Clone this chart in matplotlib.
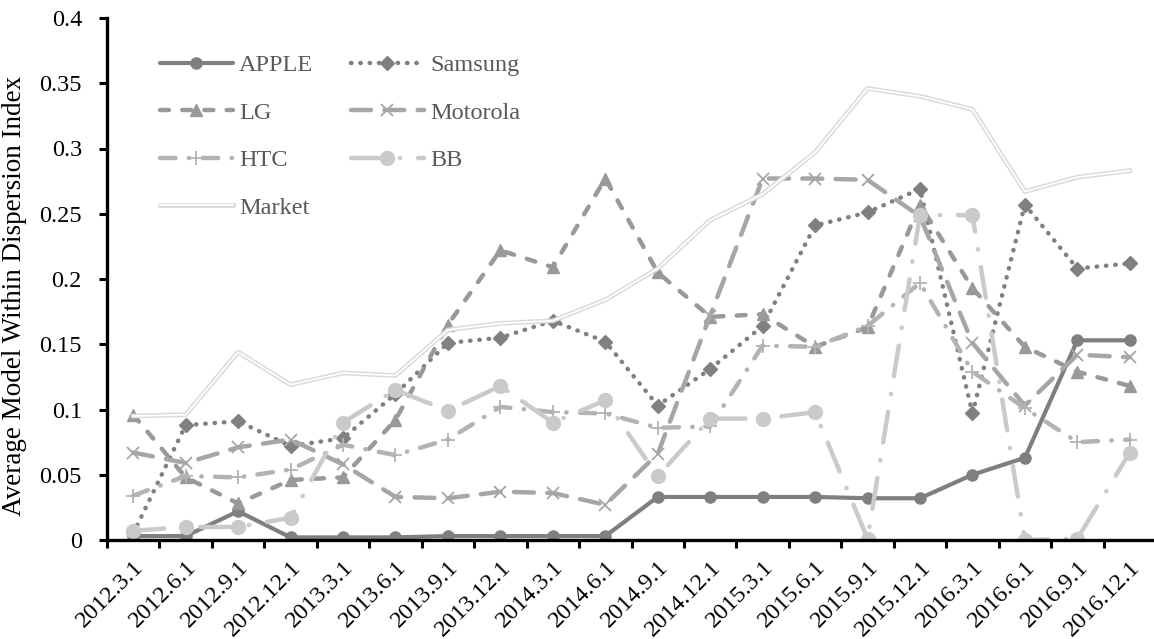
import matplotlib
matplotlib.use("Agg")
import matplotlib.pyplot as plt
import matplotlib.patheffects as pe

plt.rcParams.update({
    "font.family": ["Liberation Serif", "DejaVu Serif"],
    "font.size": 17.5,
})

dates = ["2012.3.1", "2012.6.1", "2012.9.1", "2012.12.1", "2013.3.1", "2013.6.1",
         "2013.9.1", "2013.12.1", "2014.3.1", "2014.6.1", "2014.9.1", "2014.12.1",
         "2015.3.1", "2015.6.1", "2015.9.1", "2015.12.1", "2016.3.1", "2016.6.1",
         "2016.9.1", "2016.12.1"]

apple = [0.003, 0.003, 0.022, 0.002, 0.002, 0.002, 0.003, 0.003, 0.003, 0.003,
         0.033, 0.033, 0.033, 0.033, 0.032, 0.032, 0.050, 0.063, 0.153, 0.153]
samsung = [0.005, 0.088, 0.091, 0.072, 0.078, 0.112, 0.151, 0.155, 0.168, 0.152,
           0.103, 0.131, 0.164, 0.241, 0.251, 0.269, 0.097, 0.257, 0.208, 0.212]
lg = [0.096, 0.048, 0.028, 0.046, 0.048, 0.092, 0.165, 0.222, 0.209, 0.277,
      0.205, 0.171, 0.173, 0.148, 0.163, 0.257, 0.193, 0.148, 0.129, 0.118]
motorola = [0.067, 0.059, 0.071, 0.077, 0.058, 0.033, 0.032, 0.037, 0.036, 0.027,
            0.066, 0.172, 0.277, 0.277, 0.276, 0.248, 0.151, 0.103, 0.142, 0.140]
htc = [0.034, 0.049, 0.048, 0.054, 0.073, 0.065, 0.077, 0.102, 0.098, 0.097,
       0.086, 0.087, 0.149, 0.148, 0.164, 0.197, 0.129, 0.101, 0.075, 0.077]
bb = [0.007, 0.010, 0.010, 0.017, 0.090, 0.115, 0.099, 0.118, 0.090, 0.107,
      0.049, 0.093, 0.093, 0.098, 0.001, 0.249, 0.249, 0.000, 0.001, 0.067]
market = [0.095, 0.096, 0.144, 0.119, 0.128, 0.126, 0.161, 0.166, 0.168, 0.184,
          0.208, 0.245, 0.265, 0.297, 0.346, 0.340, 0.330, 0.267, 0.278, 0.283]

x = list(range(len(dates)))

fig = plt.figure(figsize=(11.54, 6.39), dpi=100)
ax = fig.add_axes([107 / 1154, 99 / 639, 1049 / 1154, 522 / 639])

lw = 3.2
h_apple, = ax.plot(x, apple, color="#7f7f7f", lw=3.0, marker="o", ms=8,
                   label="APPLE", solid_capstyle="round")
h_sam, = ax.plot(x, samsung, color="#808080", lw=lw, marker="D", ms=7,
                 dashes=(0.1, 2.0), dash_capstyle="round", label="Samsung")
h_lg, = ax.plot(x, lg, color="#999999", lw=lw, marker="^", ms=9,
                dashes=(2, 3), dash_capstyle="round", label="LG")
h_mot, = ax.plot(x, motorola, color="#a6a6a6", lw=lw, marker="x", ms=9, mew=1.3,
                 dashes=(4.5, 3), dash_capstyle="round", label="Motorola")
h_htc, = ax.plot(x, htc, color="#b3b3b3", lw=lw, marker="+", ms=10, mew=1.3,
                 dashes=(3.5, 3, 0.1, 3), dash_capstyle="round", label="HTC")
h_bb, = ax.plot(x, bb, color="#cacaca", lw=lw, marker="o", ms=10,
                dashes=(7, 4, 0.1, 4), dash_capstyle="round", label="BB")
h_mkt, = ax.plot(x, market, color="white", lw=1.3, label="Market",
                 path_effects=[pe.Stroke(linewidth=3.4, foreground="#d9d9d9"), pe.Normal()])

ax.set_xlim(-0.5, len(dates) - 0.5)
ax.set_ylim(0, 0.4)
ax.set_yticks([0, 0.05, 0.1, 0.15, 0.2, 0.25, 0.3, 0.35, 0.4])
ax.set_yticklabels(["0", "0.05", "0.1", "0.15", "0.2", "0.25", "0.3", "0.35", "0.4"])
ax.set_xticks(x)
ax.set_xticklabels(dates, rotation=45, ha="right", rotation_mode="anchor")
ax.set_xticks([i - 0.5 for i in range(len(dates) + 1)], minor=True)
ax.tick_params(axis="x", which="major", length=0, pad=12)
ax.tick_params(axis="x", which="minor", length=6, width=2.2, direction="out")
ax.tick_params(axis="y", length=6, width=2.2, direction="out", pad=12)

for s in ["top", "right"]:
    ax.spines[s].set_visible(False)
for s in ["left", "bottom"]:
    ax.spines[s].set_linewidth(2.4)

ax.set_ylabel("Average Model Within Dispersion Index", fontsize=19.5)
ax.yaxis.set_label_coords(-0.076, 0.467)

leg = ax.legend(handles=[h_apple, h_lg, h_htc, h_mkt, h_sam, h_mot, h_bb],
                ncol=2, loc="upper left", bbox_to_anchor=(0.0505, 0.931),
                frameon=False, handlelength=3.0, handletextpad=0.25,
                columnspacing=1.55, labelspacing=1.05, borderpad=0,
                borderaxespad=0)
for t in leg.get_texts():
    t.set_color("#595959")

fig.savefig("out.png", dpi=100)
